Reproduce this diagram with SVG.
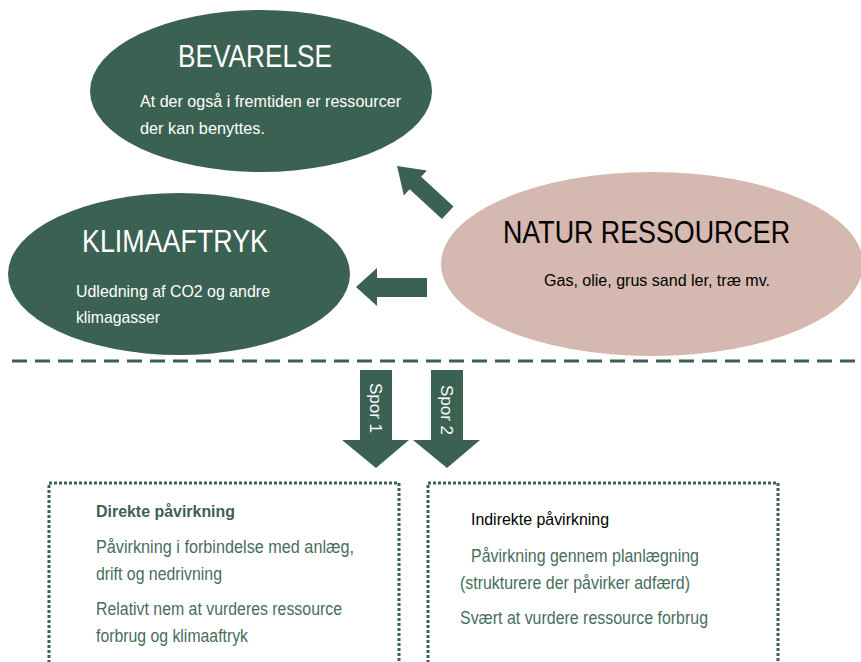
<svg xmlns="http://www.w3.org/2000/svg" width="861" height="662" viewBox="0 0 861 662">
<style>
text { font-family: "Liberation Sans", Arial, sans-serif; }
.green { fill: #3b6152; }
.pink { fill: #d5b8af; }
.title { font-size: 32px; }
.wt { fill: #ffffff; }
.body { font-size: 17px; }
.bx { fill: none; stroke: #3b6152; stroke-width: 3; stroke-dasharray: 3 2; }
.gt { fill: #476d5e; font-size: 17.5px; }
.arrow { fill: #3b6152; }
</style>
<rect width="861" height="662" fill="#ffffff"/>

<g id="bevarelse">
  <ellipse class="green" cx="261" cy="91" rx="171" ry="81"/>
  <text class="title wt" x="178" y="67" textLength="154" lengthAdjust="spacingAndGlyphs">BEVARELSE</text>
  <text class="body wt" x="140" y="107" textLength="261" lengthAdjust="spacingAndGlyphs">At der også i fremtiden er ressourcer</text>
  <text class="body wt" x="140" y="134" textLength="125" lengthAdjust="spacingAndGlyphs">der kan benyttes.</text>
</g>

<g id="klimaaftryk">
  <ellipse class="green" cx="179" cy="274" rx="171" ry="81"/>
  <text class="title wt" x="82" y="252" textLength="186" lengthAdjust="spacingAndGlyphs">KLIMAAFTRYK</text>
  <text class="body wt" x="76" y="297" textLength="194" lengthAdjust="spacingAndGlyphs">Udledning af CO2 og andre</text>
  <text class="body wt" x="76" y="323" textLength="84" lengthAdjust="spacingAndGlyphs">klimagasser</text>
</g>

<g id="natur-ressourcer">
  <ellipse class="pink" cx="652" cy="264" rx="211" ry="92"/>
  <text class="title" fill="#000000" x="503" y="243" textLength="287" lengthAdjust="spacingAndGlyphs">NATUR RESSOURCER</text>
  <text class="body" fill="#000000" x="544" y="286" textLength="226" lengthAdjust="spacingAndGlyphs">Gas, olie, grus sand ler, træ mv.</text>
</g>

<g id="connectors">
  <polygon class="arrow" transform="translate(397,166) rotate(42.7)" points="0,0 25,-17 25,-8.5 69,-8.5 69,8.5 25,8.5 25,17"/>
  <polygon class="arrow" points="356,287 377,268 377,278 427,278 427,297 377,297 377,306"/>
  <line x1="12" y1="361" x2="858" y2="361" stroke="#3b6152" stroke-width="3" stroke-dasharray="15 8"/>
</g>

<g id="spor1">
  <polygon class="arrow" points="360,370 392,370 392,440 409,440 376,468 342,440 360,440"/>
  <text class="wt" font-size="17" text-anchor="middle" transform="translate(370,408) rotate(90)">Spor 1</text>
</g>

<g id="spor2">
  <polygon class="arrow" points="431,370 463,370 463,440 480,440 447,468 413,440 431,440"/>
  <text class="wt" font-size="17" text-anchor="middle" transform="translate(441,410) rotate(90)">Spor 2</text>
</g>

<g id="direkte">
  <rect class="bx" x="49" y="483" width="350" height="200"/>
  <text font-size="17" font-weight="bold" fill="#3b6152" x="96" y="517" textLength="139" lengthAdjust="spacingAndGlyphs">Direkte påvirkning</text>
  <text class="gt" x="96" y="553" textLength="258" lengthAdjust="spacingAndGlyphs">Påvirkning i forbindelse med anlæg,</text>
  <text class="gt" x="96" y="580" textLength="126" lengthAdjust="spacingAndGlyphs">drift og nedrivning</text>
  <text class="gt" x="96" y="615" textLength="246" lengthAdjust="spacingAndGlyphs">Relativt nem at vurderes ressource</text>
  <text class="gt" x="96" y="642" textLength="152" lengthAdjust="spacingAndGlyphs">forbrug og klimaaftryk</text>
</g>

<g id="indirekte">
  <rect class="bx" x="428" y="483" width="350" height="200"/>
  <text font-size="17" fill="#000000" x="471" y="525" textLength="138" lengthAdjust="spacingAndGlyphs">Indirekte påvirkning</text>
  <text class="gt" x="471" y="562" textLength="228" lengthAdjust="spacingAndGlyphs">Påvirkning gennem planlægning</text>
  <text class="gt" x="460" y="589" textLength="230" lengthAdjust="spacingAndGlyphs">(strukturere der påvirker adfærd)</text>
  <text class="gt" x="460" y="624" textLength="248" lengthAdjust="spacingAndGlyphs">Svært at vurdere ressource forbrug</text>
</g>
</svg>
